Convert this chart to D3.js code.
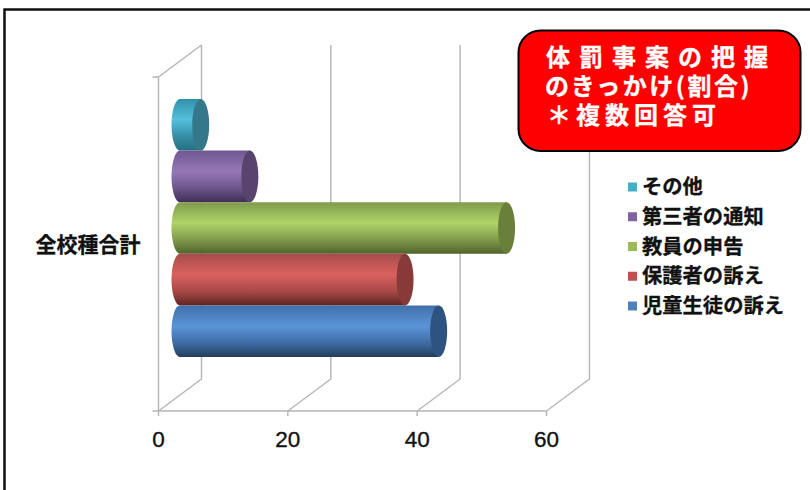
<!DOCTYPE html>
<html lang="ja">
<head>
<meta charset="utf-8">
<script src="https://cdn.jsdelivr.net/npm/d3@7/dist/d3.min.js"></script>
<style>
html,body{margin:0;padding:0;background:#fff;overflow:hidden}
svg{display:block}
</style>
</head>
<body>
<svg id="chart" width="810" height="490"></svg>
<script>
// Data: reasons a corporal punishment case came to light, percent, all school types
const categoryLabel = "全校種合計";
const seriesNames = ["児童生徒の訴え", "保護者の訴え", "教員の申告", "第三者の通知", "その他"];
const seriesValues = [40, 34.8, 50.5, 10.8, 3.2];
const xTicks = [0, 20, 40, 60];
const calloutLines = ["体罰事案の把握", "のきっかけ(割合)", "＊複数回答可"];

// Series styling
const legendColors = ["#4f81bd", "#c0504d", "#9bbb59", "#8064a2", "#4bacc6"];
const bodyTop = ["#3f70aa", "#a64c4a", "#7f9a4a", "#6f5790", "#3190aa"];
const bodyMid = ["#5b94d8", "#da615d", "#afd468", "#9678b8", "#53c0dc"];
const bodyLow = ["#3d6ba3", "#a54846", "#7d984a", "#6b5389", "#348ba3"];
const bodyBottom = ["#223d5c", "#5f2422", "#4f632c", "#3e2e58", "#286f82"];
const capColors = ["#2f5380", "#873a38", "#6a7f39", "#59436f", "#35788c"];

const svg = d3.select("#chart");
const cjk = "'Noto Sans CJK JP', sans-serif";

// Outer frame
svg.append("path")
  .attr("d", "M4.5,490V9.5H810")
  .attr("fill", "none").attr("stroke", "#111").attr("stroke-width", 2.5);

// Oblique box: front floor, back wall offset, and the depth at which bars sit
const front = { x0: 158.5, x1: 546.5, bottom: 411, top: 77 };
const depth = { dx: 43, dy: -32 };
const x = d3.scaleLinear().domain([0, 60]).range([front.x0, front.x1]);
const midDx = depth.dx / 2, midDy = depth.dy / 2;

const gridColor = "#b4b4b4";
const box = svg.append("g").attr("fill", "none").attr("stroke", gridColor).attr("stroke-width", 1.4);

// Floor and value axis, with ticks
box.append("line").attr("x1", front.x0 - 6).attr("x2", front.x1)
  .attr("y1", front.bottom).attr("y2", front.bottom);
xTicks.forEach(t => {
  const px = x(t);
  box.append("path").attr("d",
    `M${px},${front.bottom + 5}V${front.bottom}L${px + depth.dx},${front.bottom + depth.dy}V${front.top + depth.dy}`);
});

// Left wall
box.append("path").attr("d",
  `M${front.x0 - 6},${front.top}H${front.x0}V${front.bottom}M${front.x0},${front.top}L${front.x0 + depth.dx},${front.top + depth.dy}`);

// Category band and one cylinder slot per series
const yCat = d3.scaleBand().domain([categoryLabel])
  .range([front.bottom + midDy, front.top + midDy]);
const bandTop = yCat(categoryLabel), bandH = yCat.bandwidth();
const gap = 38;
const ySeries = d3.scaleBand().domain(seriesNames)
  .range([bandTop + bandH - gap, bandTop + gap]);

const defs = svg.append("defs");
seriesNames.forEach((n, i) => {
  const g = defs.append("linearGradient").attr("id", `body${i}`)
    .attr("x1", 0).attr("x2", 0).attr("y1", 0).attr("y2", 1);
  g.append("stop").attr("offset", "0%").attr("stop-color", bodyTop[i]);
  g.append("stop").attr("offset", "40%").attr("stop-color", bodyMid[i]);
  g.append("stop").attr("offset", "74%").attr("stop-color", bodyLow[i]);
  g.append("stop").attr("offset", "100%").attr("stop-color", bodyBottom[i]);
});

// Cylinders, stacked lowest first so each upper one reads from the floor up
const capRx = 8.5;
const bars = svg.append("g");
d3.range(seriesNames.length).reverse().forEach(i => {
  const yTop = ySeries(seriesNames[i]);
  const h = ySeries.bandwidth();
  const ry = h / 2;
  const xa = x(0) + midDx;
  const xb = x(seriesValues[i]) + midDx;
  const g = bars.append("g");
  g.append("path")
    .attr("d", `M${xa},${yTop}H${xb}V${yTop + h}H${xa}A${capRx},${ry} 0 0 1 ${xa},${yTop}Z`)
    .attr("fill", `url(#body${i})`);
  g.append("ellipse")
    .attr("cx", xb).attr("cy", yTop + ry)
    .attr("rx", capRx).attr("ry", ry)
    .attr("fill", capColors[i]);
});

// Value tick labels
svg.append("g").selectAll("text").data(xTicks).join("text")
  .attr("x", d => x(d)).attr("y", 447)
  .attr("text-anchor", "middle")
  .attr("font-family", "'Liberation Sans', Arial, sans-serif")
  .attr("font-size", 22.5).attr("fill", "#111")
  .attr("stroke", "#111").attr("stroke-width", 0.35)
  .text(d => d);

// Category label
svg.append("text")
  .attr("x", 140.5).attr("y", 251.5)
  .attr("text-anchor", "end")
  .attr("font-family", cjk).attr("font-weight", 700)
  .attr("font-size", 21).attr("fill", "#111")
  .attr("stroke", "#111").attr("stroke-width", 0.3)
  .text(categoryLabel);

// Legend, top entry is the last series
const legendY = d3.scalePoint().domain(d3.range(seriesNames.length).reverse()).range([187, 306]);
const legend = svg.append("g");
d3.range(seriesNames.length).forEach(i => {
  legend.append("rect")
    .attr("x", 628).attr("y", legendY(i) - 4.5)
    .attr("width", 9).attr("height", 9)
    .attr("fill", legendColors[i]);
  legend.append("text")
    .attr("x", 642).attr("y", legendY(i) + 7)
    .attr("font-family", cjk).attr("font-weight", 700)
    .attr("font-size", 20.3).attr("fill", "#111")
    .attr("stroke", "#111").attr("stroke-width", 0.3)
    .text(seriesNames[i]);
});

// Callout box
svg.append("rect")
  .attr("x", 518.5).attr("y", 30.5).attr("width", 282).attr("height", 120.5)
  .attr("rx", 22).attr("ry", 22)
  .attr("fill", "#ff0000").attr("stroke", "#000").attr("stroke-width", 2);

const calloutSpec = [
  { x: 546, y: 65.5, spacing: 9 },
  { x: 545, y: 94.5, spacing: 2.5 },
  { x: 547, y: 124, spacing: 5 }
];
calloutLines.forEach((line, i) => {
  svg.append("text")
    .attr("x", calloutSpec[i].x).attr("y", calloutSpec[i].y)
    .attr("font-family", cjk).attr("font-weight", 700)
    .attr("font-size", 24).attr("fill", "#fff")
    .attr("stroke", "#fff").attr("stroke-width", 0.3)
    .attr("letter-spacing", calloutSpec[i].spacing)
    .text(line);
});
</script>
</body>
</html>
